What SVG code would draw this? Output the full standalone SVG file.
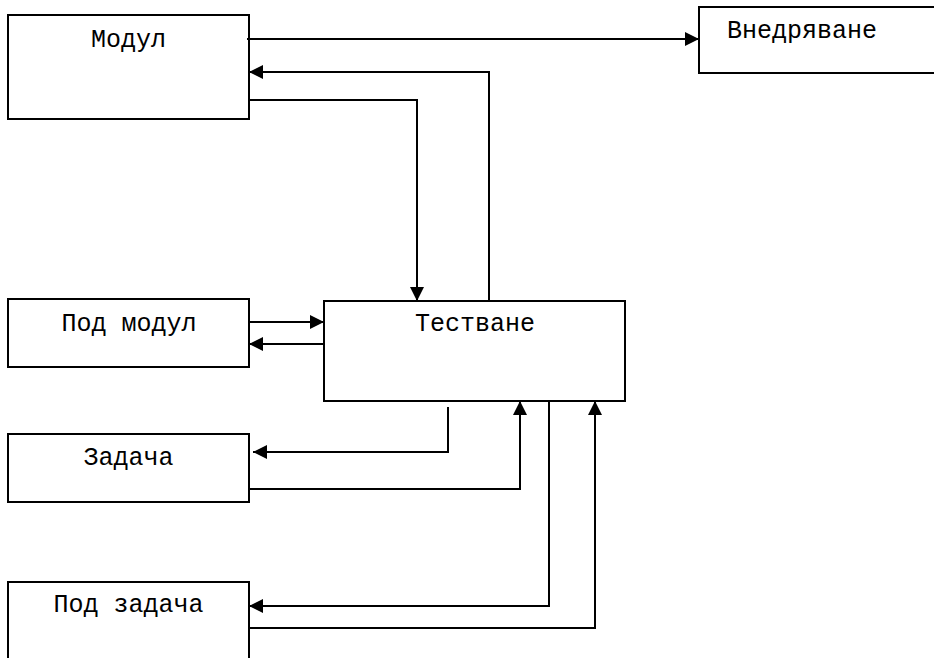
<svg xmlns="http://www.w3.org/2000/svg" width="934" height="658" viewBox="0 0 934 658">
<style>
.box{fill:#fff;stroke:#000;stroke-width:2}
.lbl{font-family:"Liberation Mono","Courier New",monospace;font-size:25px;fill:#000;text-anchor:middle}
.ln{fill:none;stroke:#000;stroke-width:2}
.arr{marker-end:url(#ah)}
</style>
<defs>
<marker id="ah" markerUnits="userSpaceOnUse" markerWidth="14" markerHeight="14" refX="14" refY="7" orient="auto">
<path d="M0,0 L14,7 L0,14 Z" fill="#000"/>
</marker>
</defs>
<rect width="934" height="658" fill="#fff"/>
<g id="modul"><rect class="box" x="8" y="15" width="241" height="104"/><text class="lbl" x="128.5" y="47">Модул</text></g>
<g id="vnedryavane"><rect class="box" x="699" y="7" width="250" height="66"/><text class="lbl" x="802" y="38">Внедряване</text></g>
<g id="pod-modul"><rect class="box" x="8" y="299" width="241" height="68"/><text class="lbl" x="129" y="331">Под модул</text></g>
<g id="testvane"><rect class="box" x="324" y="301" width="301" height="100"/><text class="lbl" x="475" y="331">Тестване</text></g>
<g id="zadacha"><rect class="box" x="8" y="434" width="241" height="68"/><text class="lbl" x="128.5" y="465">Задача</text></g>
<g id="pod-zadacha"><rect class="box" x="8" y="582" width="241" height="90"/><text class="lbl" x="128.5" y="612">Под задача</text></g>
<g id="connectors">
<path class="ln arr" d="M247,39 H699"/>
<path class="ln arr" d="M489,301 V72 H249"/>
<path class="ln arr" d="M249,100 H417 V301"/>
<path class="ln arr" d="M249,322 H324"/>
<path class="ln arr" d="M324,344 H249"/>
<path class="ln arr" d="M448,407 V452 H253"/>
<path class="ln arr" d="M249,489 H520 V401"/>
<path class="ln arr" d="M549,401 V606 H249"/>
<path class="ln arr" d="M249,628 H595 V401"/>
</g>
</svg>
